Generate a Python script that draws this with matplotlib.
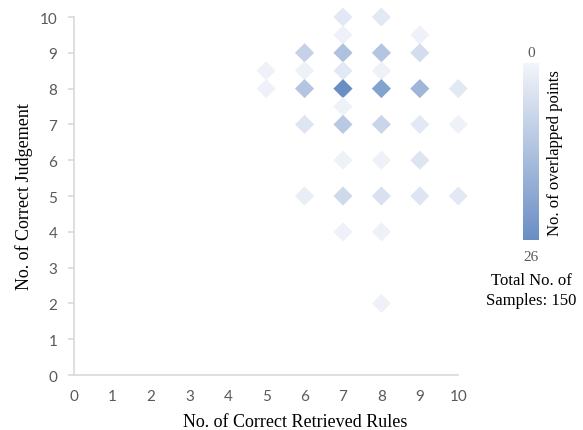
import matplotlib
matplotlib.use('Agg')
from matplotlib import pyplot as plt
from matplotlib.colors import LinearSegmentedColormap, Normalize
import numpy as np

# 数据：每个菱形点的位置和重叠数量
rules = [5, 5, 6, 6, 6, 6, 6, 7, 7, 7, 7, 7, 7, 7, 7, 7, 7,
         8, 8, 8, 8, 8, 8, 8, 8, 8, 9, 9, 9, 9, 9, 9, 10, 10, 10]
judgement = [8.5, 8, 9, 8.5, 8, 7, 5, 10, 9.5, 9, 8.5, 8, 7.5, 7, 6, 5, 4,
             10, 9, 8.5, 8, 7, 6, 5, 4, 2, 9.5, 9, 8, 7, 6, 5, 8, 7, 5]
counts = [1, 1, 9, 1, 12, 4, 2, 3, 1, 13, 3, 26, 1, 11, 1, 7, 1,
          3, 12, 1, 21, 8, 1, 5, 1, 1, 1, 6, 16, 3, 4, 4, 3, 1, 3]
tick_vals = list(range(11))
total_samples = 150

cmap = LinearSegmentedColormap.from_list('ov', ['#F3F5FA', '#6A8EC4'])
norm = Normalize(vmin=0, vmax=26)

fig = plt.figure(figsize=(5.83, 4.31), dpi=100)
ax = fig.add_axes([0.127, 0.1276, 0.659, 0.8306])

ax.scatter(rules, judgement, c=counts, cmap=cmap, norm=norm, marker='D',
           s=95, linewidths=0, clip_on=False, zorder=3)

ax.set_xlim(0, 10)
ax.set_ylim(0, 10)
ax.set_xticks(tick_vals)
ax.set_yticks(tick_vals)

gray = '#595959'
for sp in ['top', 'right']:
    ax.spines[sp].set_visible(False)
for sp in ['left', 'bottom']:
    ax.spines[sp].set_color('#D9D9D9')
    ax.spines[sp].set_linewidth(1.2)
ax.tick_params(axis='y', length=4, color='#D9D9D9', width=1.2, pad=8)
ax.tick_params(axis='x', length=0, pad=10)
ax.tick_params(labelcolor=gray, labelsize=11)
for lab in ax.get_xticklabels() + ax.get_yticklabels():
    lab.set_family('Lato')

serif = 'Liberation Serif'
ax.set_xlabel('No. of Correct Retrieved Rules', family=serif, fontsize=13)
ax.xaxis.set_label_coords(0.575, -0.105)
ax.set_ylabel('No. of Correct Judgement', family=serif, fontsize=13, labelpad=5)

# 颜色条
cax = fig.add_axes([0.897, 0.441, 0.027, 0.410])
grad = np.linspace(0, 1, 256).reshape(-1, 1)
cax.imshow(grad, aspect='auto', cmap=cmap, origin='upper', extent=[0, 1, 0, 1])
cax.set_axis_off()
fig.text(0.911, 0.876, '0', ha='center', va='center', color=gray, family=serif, fontsize=11)
fig.text(0.911, 0.402, '26', ha='center', va='center', color=gray, family=serif, fontsize=11)
fig.text(0.952, 0.645, 'No. of overlapped points', rotation=90, ha='center', va='center',
         family=serif, fontsize=12)
fig.text(0.911, 0.325, 'Total No. of\nSamples: {}'.format(total_samples), ha='center', va='center',
         family=serif, fontsize=12, linespacing=1.3)

plt.savefig('out.png', dpi=100)
